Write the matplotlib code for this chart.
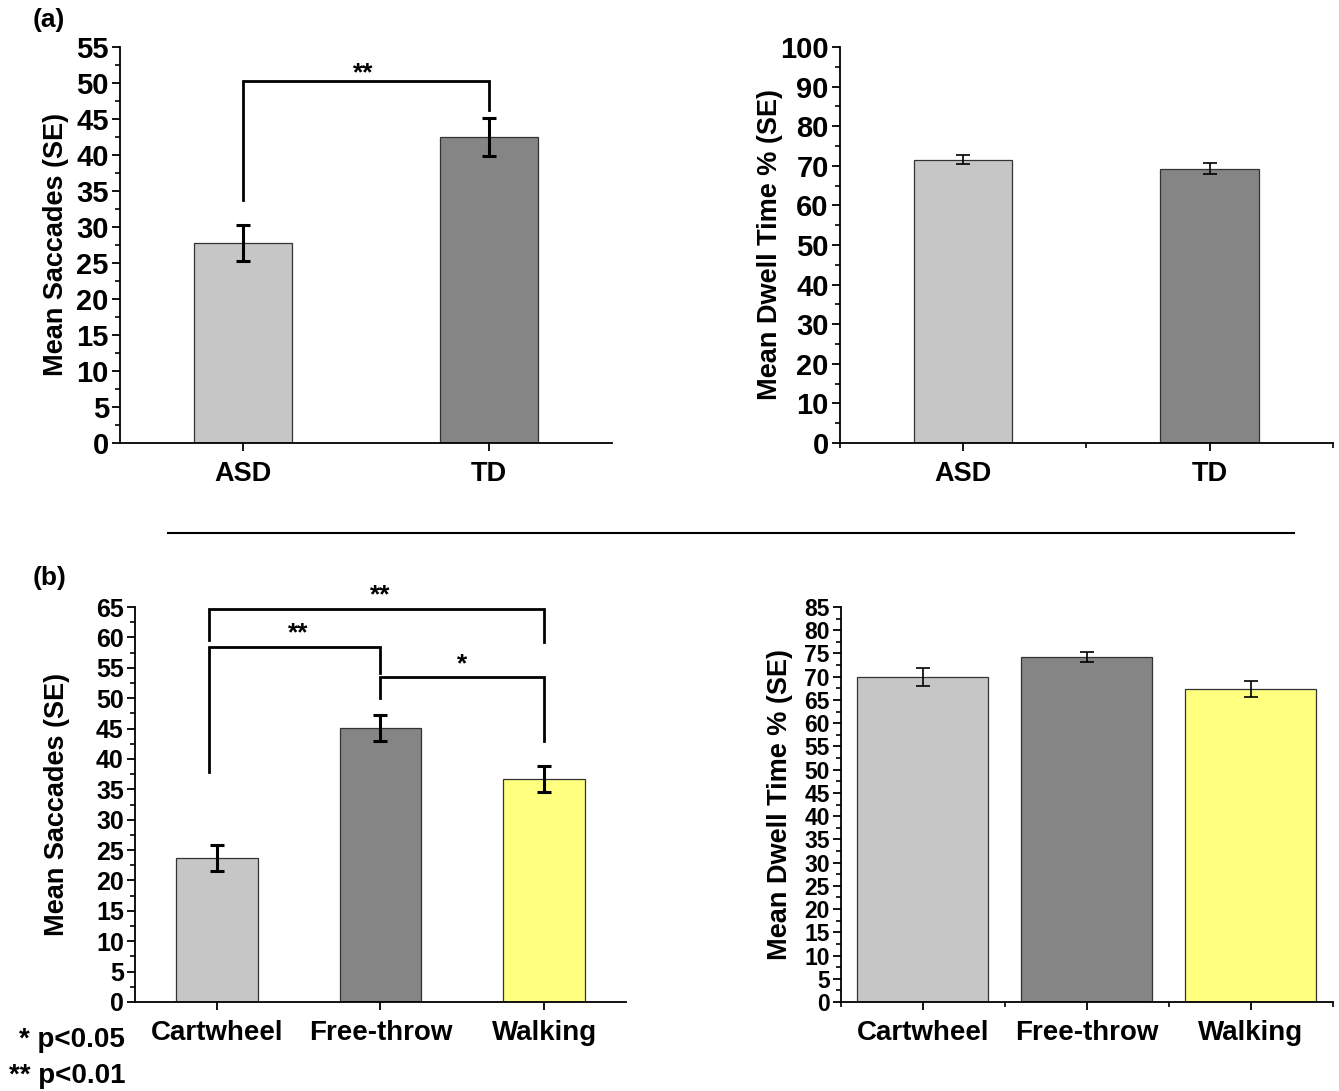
import matplotlib.pyplot as plt
from matplotlib.lines import Line2D
from matplotlib.ticker import MultipleLocator, FixedLocator

plt.rcParams['font.family'] = ['Liberation Sans', 'DejaVu Sans']
plt.rcParams['font.weight'] = 'bold'

# (a) group comparison
groups = ['ASD', 'TD']
sacc_a = [27.8, 42.5]
sacc_a_se = [2.5, 2.6]
dwell_a = [71.5, 69.2]
dwell_a_se = [1.15, 1.4]

# (b) action comparison
actions = ['Cartwheel', 'Free-throw', 'Walking']
sacc_b = [23.7, 45.1, 36.7]
sacc_b_se = [2.2, 2.2, 2.1]
dwell_b = [69.9, 74.2, 67.4]
dwell_b_se = [2.0, 1.1, 1.7]

grey_light = '#c6c6c6'
grey_dark = '#858585'
yellow = '#ffff80'

# significance brackets: (x_left, x_right, y_bar, left leg bottom, right leg bottom, label, label x, label y)
brackets_a = [(0, 1, 50.2, 33.8, 46.2, '**', 0.49, 51.3)]
brackets_b = [(-0.05, 2.0, 64.7, 59.6, 59.3, '**', 1.0, 66.9),
              (-0.05, 1.0, 58.5, 37.8, 54.2, '**', 0.5, 60.6),
              (1.0, 2.0, 53.5, 50.0, 42.9, '*', 1.5, 55.6)]

fig = plt.figure(figsize=(13.39, 10.91), dpi=100)
ax1 = fig.add_axes([0.0896, 0.594, 0.3674, 0.363])
ax2 = fig.add_axes([0.6273, 0.594, 0.368, 0.363])
ax3 = fig.add_axes([0.1008, 0.0816, 0.3667, 0.362])
ax4 = fig.add_axes([0.628, 0.0816, 0.3674, 0.362])


def style(ax, cats, ymax, major, tick_fs, label_fs, minor_x=False):
    for s in ['top', 'right']:
        ax.spines[s].set_visible(False)
    for s in ['left', 'bottom']:
        ax.spines[s].set_linewidth(1.3)
    ax.set_ylim(0, ymax)
    ax.set_xlim(-0.5, len(cats) - 0.5)
    ax.yaxis.set_major_locator(MultipleLocator(major))
    ax.yaxis.set_minor_locator(MultipleLocator(major / 2))
    ax.set_xticks(range(len(cats)))
    ax.set_xticklabels(cats)
    if minor_x:
        ax.xaxis.set_minor_locator(FixedLocator([i + 0.5 for i in range(-1, len(cats))]))
    ax.tick_params(axis='both', which='major', direction='out', length=6, width=1.3)
    ax.tick_params(axis='y', which='major', pad=2, labelsize=tick_fs)
    ax.tick_params(axis='x', which='major', pad=7, labelsize=label_fs)
    ax.tick_params(axis='both', which='minor', direction='out', length=3.5, width=1.2)
    for t in ax.get_yticklabels() + ax.get_xticklabels():
        t.set_fontweight('bold')


def brackets(ax, specs, fs):
    for xl, xr, yb, yl, yr, lab, tx, ty in specs:
        ax.plot([xl, xl, xr, xr], [yl, yb, yb, yr], color='black', lw=2.0,
                clip_on=False, solid_joinstyle='miter')
        ax.text(tx, ty, lab, ha='center', va='center', fontsize=fs, fontweight='bold')


# (a) saccades
ax1.bar(range(2), sacc_a, width=0.4, color=[grey_light, grey_dark],
        edgecolor='#333333', linewidth=0.9)
ax1.errorbar(range(2), sacc_a, yerr=sacc_a_se, fmt='none', ecolor='black',
             elinewidth=2.2, capsize=5, capthick=2.2)
style(ax1, groups, 55, 5, 21, 19.5)
ax1.set_ylabel('Mean Saccades (SE)', fontsize=19.5, fontweight='bold', labelpad=5)
brackets(ax1, brackets_a, 19)

# (a) dwell time
ax2.bar(range(2), dwell_a, width=0.4, color=[grey_light, grey_dark],
        edgecolor='#333333', linewidth=0.9)
ax2.errorbar(range(2), dwell_a, yerr=dwell_a_se, fmt='none', ecolor='black',
             elinewidth=1.2, capsize=5, capthick=1.2)
style(ax2, groups, 100, 10, 21, 19.5, minor_x=True)
ax2.set_ylabel('Mean Dwell Time % (SE)', fontsize=19.5, fontweight='bold', labelpad=-2)

# (b) saccades
ax3.bar(range(3), sacc_b, width=0.5, color=[grey_light, grey_dark, yellow],
        edgecolor='#333333', linewidth=0.9)
ax3.errorbar(range(3), sacc_b, yerr=sacc_b_se, fmt='none', ecolor='black',
             elinewidth=2.2, capsize=5, capthick=2.2)
style(ax3, actions, 65, 5, 18, 20)
ax3.set_ylabel('Mean Saccades (SE)', fontsize=19.5, fontweight='bold', labelpad=19)
brackets(ax3, brackets_b, 19)

# (b) dwell time
ax4.bar(range(3), dwell_b, width=0.8, color=[grey_light, grey_dark, yellow],
        edgecolor='#333333', linewidth=0.9)
ax4.errorbar(range(3), dwell_b, yerr=dwell_b_se, fmt='none', ecolor='black',
             elinewidth=1.2, capsize=5, capthick=1.2)
style(ax4, actions, 85, 5, 16.5, 20, minor_x=True)
ax4.set_ylabel('Mean Dwell Time % (SE)', fontsize=19.5, fontweight='bold', labelpad=8)

fig.text(0.0246, 0.9817, '(a)', fontsize=19, fontweight='bold', va='center')
fig.text(0.0246, 0.470, '(b)', fontsize=19, fontweight='bold', va='center')
fig.text(0.0934, 0.0467, '* p<0.05', fontsize=20, fontweight='bold', ha='right', va='center')
fig.text(0.0934, 0.0137, '** p<0.01', fontsize=20, fontweight='bold', ha='right', va='center')

fig.add_artist(Line2D([168 / 1339, 1294 / 1339], [1 - 533 / 1091, 1 - 533 / 1091],
                      transform=fig.transFigure, color='black', lw=1.5))

fig.savefig('out.png', dpi=100)
